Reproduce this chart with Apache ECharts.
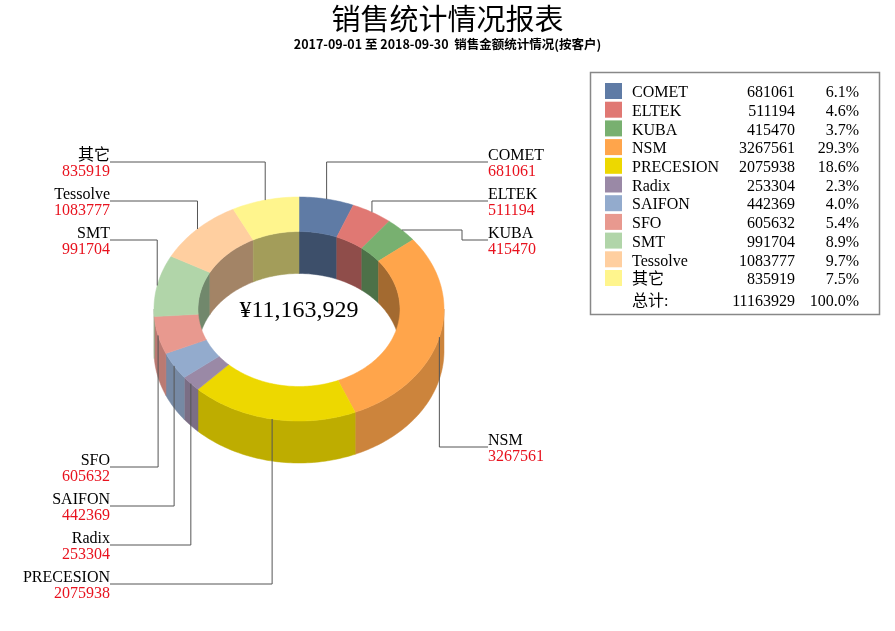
<!DOCTYPE html>
<html>
<head>
<meta charset="utf-8">
<title>销售统计情况报表</title>
<script src="https://cdn.jsdelivr.net/npm/echarts@6/dist/echarts.min.js"></script>
<style>
html, body { margin: 0; padding: 0; background: #fff; }
#main { width: 895px; height: 631px; }
</style>
</head>
<body>
<div id="main"></div>
<script>
/**
 * 销售统计情况报表 - 按客户 (仿 3D 环形图)
 */

// 客户
var customers = ['COMET', 'ELTEK', 'KUBA', 'NSM', 'PRECESION', 'Radix', 'SAIFON', 'SFO', 'SMT', 'Tessolve', '其它'];
// 销售金额
var amounts = [681061, 511194, 415470, 3267561, 2075938, 253304, 442369, 605632, 991704, 1083777, 835919];
// 颜色
var colors = ['#5f7ba5', '#e07873', '#78b070', '#ffa54b', '#edd800', '#9a89a6', '#93abcd', '#e8998f', '#b1d5a9', '#ffcfa0', '#fff58d'];

// 标签引线的水平段所在 y (布局)
var labelLineY = [162, 201, 240, 447, 584, 545, 506, 467, 240, 201, 162];
// 先横后竖的引线拐点 x (布局)
var labelBendX = [null, null, 462, null, null, null, null, null, null, null, null];

var FONT = '"Liberation Serif", "Noto Sans CJK SC", serif';
var CJK = '"Noto Sans CJK SC", sans-serif';

// 环形图几何
var pie = { cx: 299, cy: 309, rx: 145, ry: 112, irx: 101, iry: 77.5, h: 42 };
var labelLeftX = 110, labelRightX = 488;

var total = 0;
for (var k = 0; k < amounts.length; k++) total += amounts[k];

var startAngle = [], endAngle = [];
var acc = 0;
for (var k = 0; k < amounts.length; k++) {
	startAngle.push(acc / total * Math.PI * 2);
	acc += amounts[k];
	endAngle.push(acc / total * Math.PI * 2);
}

function pct(v) {
	return (v / total * 100).toFixed(1) + '%';
}

function shade(hex, f) {
	var n = parseInt(hex.slice(1), 16);
	var r = Math.round(((n >> 16) & 255) * f);
	var g = Math.round(((n >> 8) & 255) * f);
	var b = Math.round((n & 255) * f);
	return 'rgb(' + r + ',' + g + ',' + b + ')';
}

// 角度从 12 点钟方向顺时针
function pt(a, rx, ry, dy) {
	return [pie.cx + rx * Math.sin(a), pie.cy - ry * Math.cos(a) + dy];
}

function arc(a0, a1, rx, ry, dy) {
	var n = Math.max(2, Math.ceil((a1 - a0) / 0.02));
	var pts = [];
	for (var i = 0; i <= n; i++) {
		pts.push(pt(a0 + (a1 - a0) * i / n, rx, ry, dy));
	}
	return pts;
}

function clip(a0, a1, b0, b1) {
	var lo = Math.max(a0, b0), hi = Math.min(a1, b1);
	return hi > lo ? [lo, hi] : null;
}

function makeRender(i) {
	return function (params, api) {
		var a0 = startAngle[i], a1 = endAngle[i];
		var children = [];
		var c = colors[i];

		// 外侧面 (前半圈)
		var f = clip(a0, a1, Math.PI / 2, Math.PI * 1.5);
		if (f) {
			var side = shade(c, 0.8);
			children.push({
				type: 'polygon', z2: 1,
				shape: { points: arc(f[0], f[1], pie.rx, pie.ry, 0).concat(arc(f[0], f[1], pie.rx, pie.ry, pie.h).reverse()) },
				style: { fill: side, stroke: side, lineWidth: 0.5 }
			});
		}
		// 内侧面 (后半圈, 透过中间的孔可见)
		[[0, Math.PI / 2], [Math.PI * 1.5, Math.PI * 2]].forEach(function (r) {
			var b = clip(a0, a1, r[0], r[1]);
			if (b) {
				var inner = shade(c, 0.64);
				children.push({
					type: 'polygon', z2: 1,
					shape: { points: arc(b[0], b[1], pie.irx, pie.iry, 0).concat(arc(b[0], b[1], pie.irx, pie.iry, pie.h).reverse()) },
					style: { fill: inner, stroke: inner, lineWidth: 0.5 }
				});
			}
		});
		// 顶面
		children.push({
			type: 'polygon', z2: 5,
			shape: { points: arc(a0, a1, pie.rx, pie.ry, 0).concat(arc(a0, a1, pie.irx, pie.iry, 0).reverse()) },
			style: { fill: c, stroke: c, lineWidth: 0.5 }
		});

		// 引线和标签
		var mid = (a0 + a1) / 2;
		var m = pt(mid, pie.rx, pie.ry, 0);
		var right = mid < Math.PI;
		var lx = right ? labelRightX : labelLeftX;
		var ly = labelLineY[i];
		var pts;
		if (labelBendX[i] != null) {
			pts = [m, [labelBendX[i], m[1]], [labelBendX[i], ly], [lx, ly]];
		} else {
			pts = [m, [m[0], ly], [lx, ly]];
		}
		children.push({
			type: 'polyline', z2: 20,
			shape: { points: pts },
			style: { stroke: '#555', lineWidth: 1, fill: null }
		});
		children.push({
			type: 'text', z2: 20, x: lx, y: ly + 2,
			style: { text: customers[i], font: '16px ' + FONT, fill: '#000', align: right ? 'left' : 'right', verticalAlign: 'bottom' }
		});
		children.push({
			type: 'text', z2: 20, x: lx, y: ly + 2,
			style: { text: String(amounts[i]), font: '16px ' + FONT, fill: '#e8121e', align: right ? 'left' : 'right', verticalAlign: 'top' }
		});
		return { type: 'group', children: children };
	};
}

var series = [];
for (var k = 0; k < customers.length; k++) {
	series.push({
		type: 'custom',
		name: customers[k],
		coordinateSystem: 'none',
		silent: true,
		animation: false,
		itemStyle: { color: colors[k] },
		data: [amounts[k]],
		renderItem: makeRender(k)
	});
}

// 图例各列
var rich = {
	s: { width: 5, fontSize: 16, lineHeight: 16, padding: [4, 0, 0, 0], fontFamily: FONT },
	n: { width: 90, fontSize: 16, lineHeight: 16, padding: [4, 0, 0, 0], fontFamily: FONT, color: '#000' },
	v: { width: 73, align: 'right', fontSize: 16, lineHeight: 16, padding: [4, 0, 0, 0], fontFamily: FONT, color: '#000' },
	p: { width: 64, align: 'right', fontSize: 16, lineHeight: 16, padding: [4, 0, 0, 0], fontFamily: FONT, color: '#000' }
};

var myChart = echarts.init(document.getElementById('main'));
var option = {
	backgroundColor: '#fff',
	animation: false,
	title: {
		text: '销售统计情况报表',
		subtext: '2017-09-01 至 2018-09-30  销售金额统计情况(按客户)',
		left: 'center',
		top: 2,
		padding: 0,
		itemGap: 2,
		textStyle: { fontFamily: CJK, fontSize: 29, lineHeight: 34, fontWeight: 'normal', color: '#000' },
		subtextStyle: { fontFamily: CJK, fontSize: 12.5, lineHeight: 12, fontWeight: 'bold', color: '#000' }
	},
	legend: {
		orient: 'vertical',
		left: 605,
		top: 81,
		padding: 0,
		itemWidth: 17,
		itemHeight: 16,
		itemGap: -1.3,
		icon: 'rect',
		selectedMode: false,
		data: customers,
		formatter: function (name) {
			var i = customers.indexOf(name);
			return '{s| }{n|' + name + '}{v|' + amounts[i] + '}{p|' + pct(amounts[i]) + '}';
		},
		textStyle: { fontFamily: FONT, fontSize: 16, rich: rich }
	},
	graphic: [{
		type: 'rect',
		silent: true,
		shape: { x: 590.5, y: 72.5, width: 289, height: 242 },
		style: { fill: 'none', stroke: '#888', lineWidth: 1.5 }
	}, {
		type: 'text',
		silent: true,
		x: 632, y: 300,
		style: {
			text: '{n|总计:}{v|' + total + '}{p|' + '100.0%' + '}',
			rich: rich,
			verticalAlign: 'middle',
			font: '16px ' + FONT
		}
	}, {
		type: 'text',
		silent: true,
		z: 10,
		x: pie.cx, y: pie.cy + 2,
		style: {
			text: '¥' + total.toLocaleString('en-US'),
			font: '24px ' + FONT,
			fill: '#000',
			align: 'center',
			verticalAlign: 'middle'
		}
	}],
	series: series
};
myChart.setOption(option);
</script>
</body>
</html>
